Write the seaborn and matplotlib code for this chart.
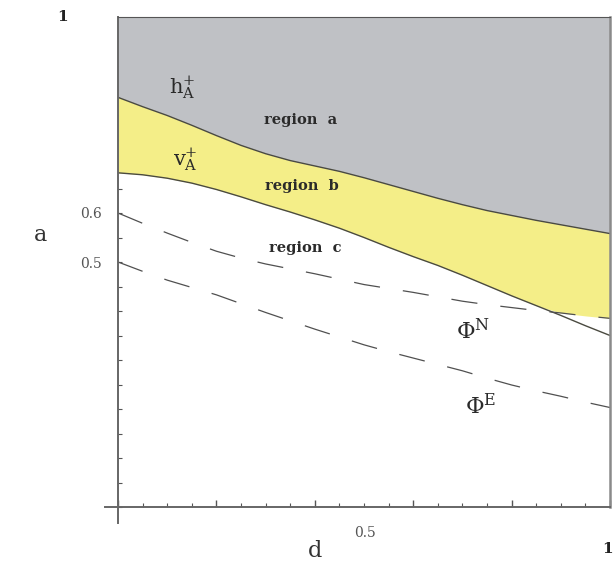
import numpy as np
import matplotlib
matplotlib.use("Agg")
import matplotlib.pyplot as plt
import seaborn as sns

# values (d step 0.05)
d = [0.00, 0.05, 0.10, 0.15, 0.20, 0.25, 0.30, 0.35, 0.40, 0.45, 0.50,
     0.55, 0.60, 0.65, 0.70, 0.75, 0.80, 0.85, 0.90, 0.95, 1.00]
h_upper = [0.836, 0.817, 0.799, 0.779, 0.758, 0.738, 0.721, 0.707, 0.696, 0.685, 0.672,
           0.658, 0.644, 0.630, 0.617, 0.605, 0.595, 0.585, 0.576, 0.567, 0.558]
v_lower = [0.682, 0.678, 0.671, 0.661, 0.648, 0.633, 0.617, 0.602, 0.586, 0.569, 0.550,
           0.530, 0.511, 0.493, 0.473, 0.452, 0.431, 0.411, 0.391, 0.370, 0.350]
phi_n = [0.600, 0.579, 0.559, 0.540, 0.522, 0.508, 0.496, 0.486, 0.476, 0.465, 0.454,
         0.446, 0.438, 0.429, 0.420, 0.413, 0.407, 0.401, 0.396, 0.390, 0.385]
phi_e = [0.500, 0.481, 0.463, 0.448, 0.433, 0.415, 0.397, 0.380, 0.363, 0.347, 0.331,
         0.317, 0.304, 0.291, 0.278, 0.263, 0.249, 0.237, 0.226, 0.214, 0.203]

region_labels = ["region  a", "region  b", "region  c"]
region_pos = [(0.372, 0.790), (0.374, 0.655), (0.380, 0.529)]

sns.set_style("white")
plt.rcParams['font.family'] = ['DejaVu Serif']
plt.rcParams['mathtext.fontset'] = 'dejavuserif'

fig = plt.figure(figsize=(6.16, 5.65), dpi=100)
ax = fig.add_axes([118/616, 1 - 507/565, (610 - 118)/616, (507 - 17)/565])

gray = "#bfc1c5"
yellow = "#f4ee88"
line_col = "#4a4a40"

dd = np.array(d)
top = np.ones_like(dd)
ax.fill_between(dd, h_upper, top, color=gray, lw=0)
ax.fill_between(dd, np.maximum(v_lower, phi_n), h_upper, color=yellow, lw=0)

sns.lineplot(x=d, y=h_upper, ax=ax, color=line_col, lw=1.0)
sns.lineplot(x=d, y=v_lower, ax=ax, color=line_col, lw=1.0)
sns.lineplot(x=d, y=phi_n, ax=ax, color="#505050", lw=0.9, linestyle=(0, (21, 18.5)))
sns.lineplot(x=d, y=phi_e, ax=ax, color="#505050", lw=0.9, linestyle=(0, (21, 18.5)))

ax.set_xlim(0, 1)
ax.set_ylim(0, 1)

# axes in the mathematica style: crossing at the origin, frame on top/right
for s in ["left", "bottom"]:
    ax.spines[s].set_color("#666666")
    ax.spines[s].set_linewidth(1.4)
ax.spines["left"].set_bounds(-0.033, 1)
ax.spines["bottom"].set_bounds(-0.027, 1)
ax.spines["top"].set_color("#555555")
ax.spines["top"].set_linewidth(0.8)
ax.spines["right"].set_color("#8a8a8a")
ax.spines["right"].set_linewidth(1.8)

ax.set_xticks(np.arange(0, 1.01, 0.2), labels=[""] * 6)
ax.set_xticks(np.arange(0, 1.01, 0.05), minor=True)
ax.set_yticks([0.5, 0.6], labels=["0.5", "0.6"])
ax.set_yticks(np.arange(0, 1.0, 0.05), minor=True)
ax.tick_params(axis="x", which="major", direction="in", length=5, width=1, color="#555555")
ax.tick_params(axis="x", which="minor", direction="in", length=3, width=0.8, color="#555555")
ax.tick_params(axis="y", which="both", direction="in", length=3, width=0.8, color="#555555",
               pad=11.5, labelsize=10, labelcolor="#555555")
ax.tick_params(left=True, bottom=True, which="both")

for lab, (x, y) in zip(region_labels, region_pos):
    ax.text(x, y, lab, ha="center", va="center", fontsize=10.5, fontweight="bold", color="#2a2a2a")

ax.text(0.130, 0.855, r"$\mathrm{h}_{\mathrm{A}}^{+}$", ha="center", va="center", fontsize=15, color="#2a2a2a")
ax.text(0.136, 0.708, r"$\mathrm{v}_{\mathrm{A}}^{+}$", ha="center", va="center", fontsize=15, color="#2a2a2a")
ax.text(0.722, 0.358, r"$\Phi^{\mathrm{N}}$", ha="center", va="center", fontsize=16.5, color="#2a2a2a")
ax.text(0.738, 0.205, r"$\Phi^{\mathrm{E}}$", ha="center", va="center", fontsize=16.5, color="#2a2a2a")

fig.text(0.065, 0.584, "a", ha="center", va="center", fontsize=16, color="#333333")
fig.text(0.511, 0.025, "d", ha="center", va="center", fontsize=16, color="#333333")
fig.text(0.102, 0.970, "1", ha="center", va="center", fontsize=11, fontweight="bold", color="#222222")
fig.text(0.987, 0.028, "1", ha="center", va="center", fontsize=11, fontweight="bold", color="#222222")
fig.text(0.5925, 0.057, "0.5", ha="center", va="center", fontsize=10, color="#555555")

fig.savefig("out.png", dpi=100)
